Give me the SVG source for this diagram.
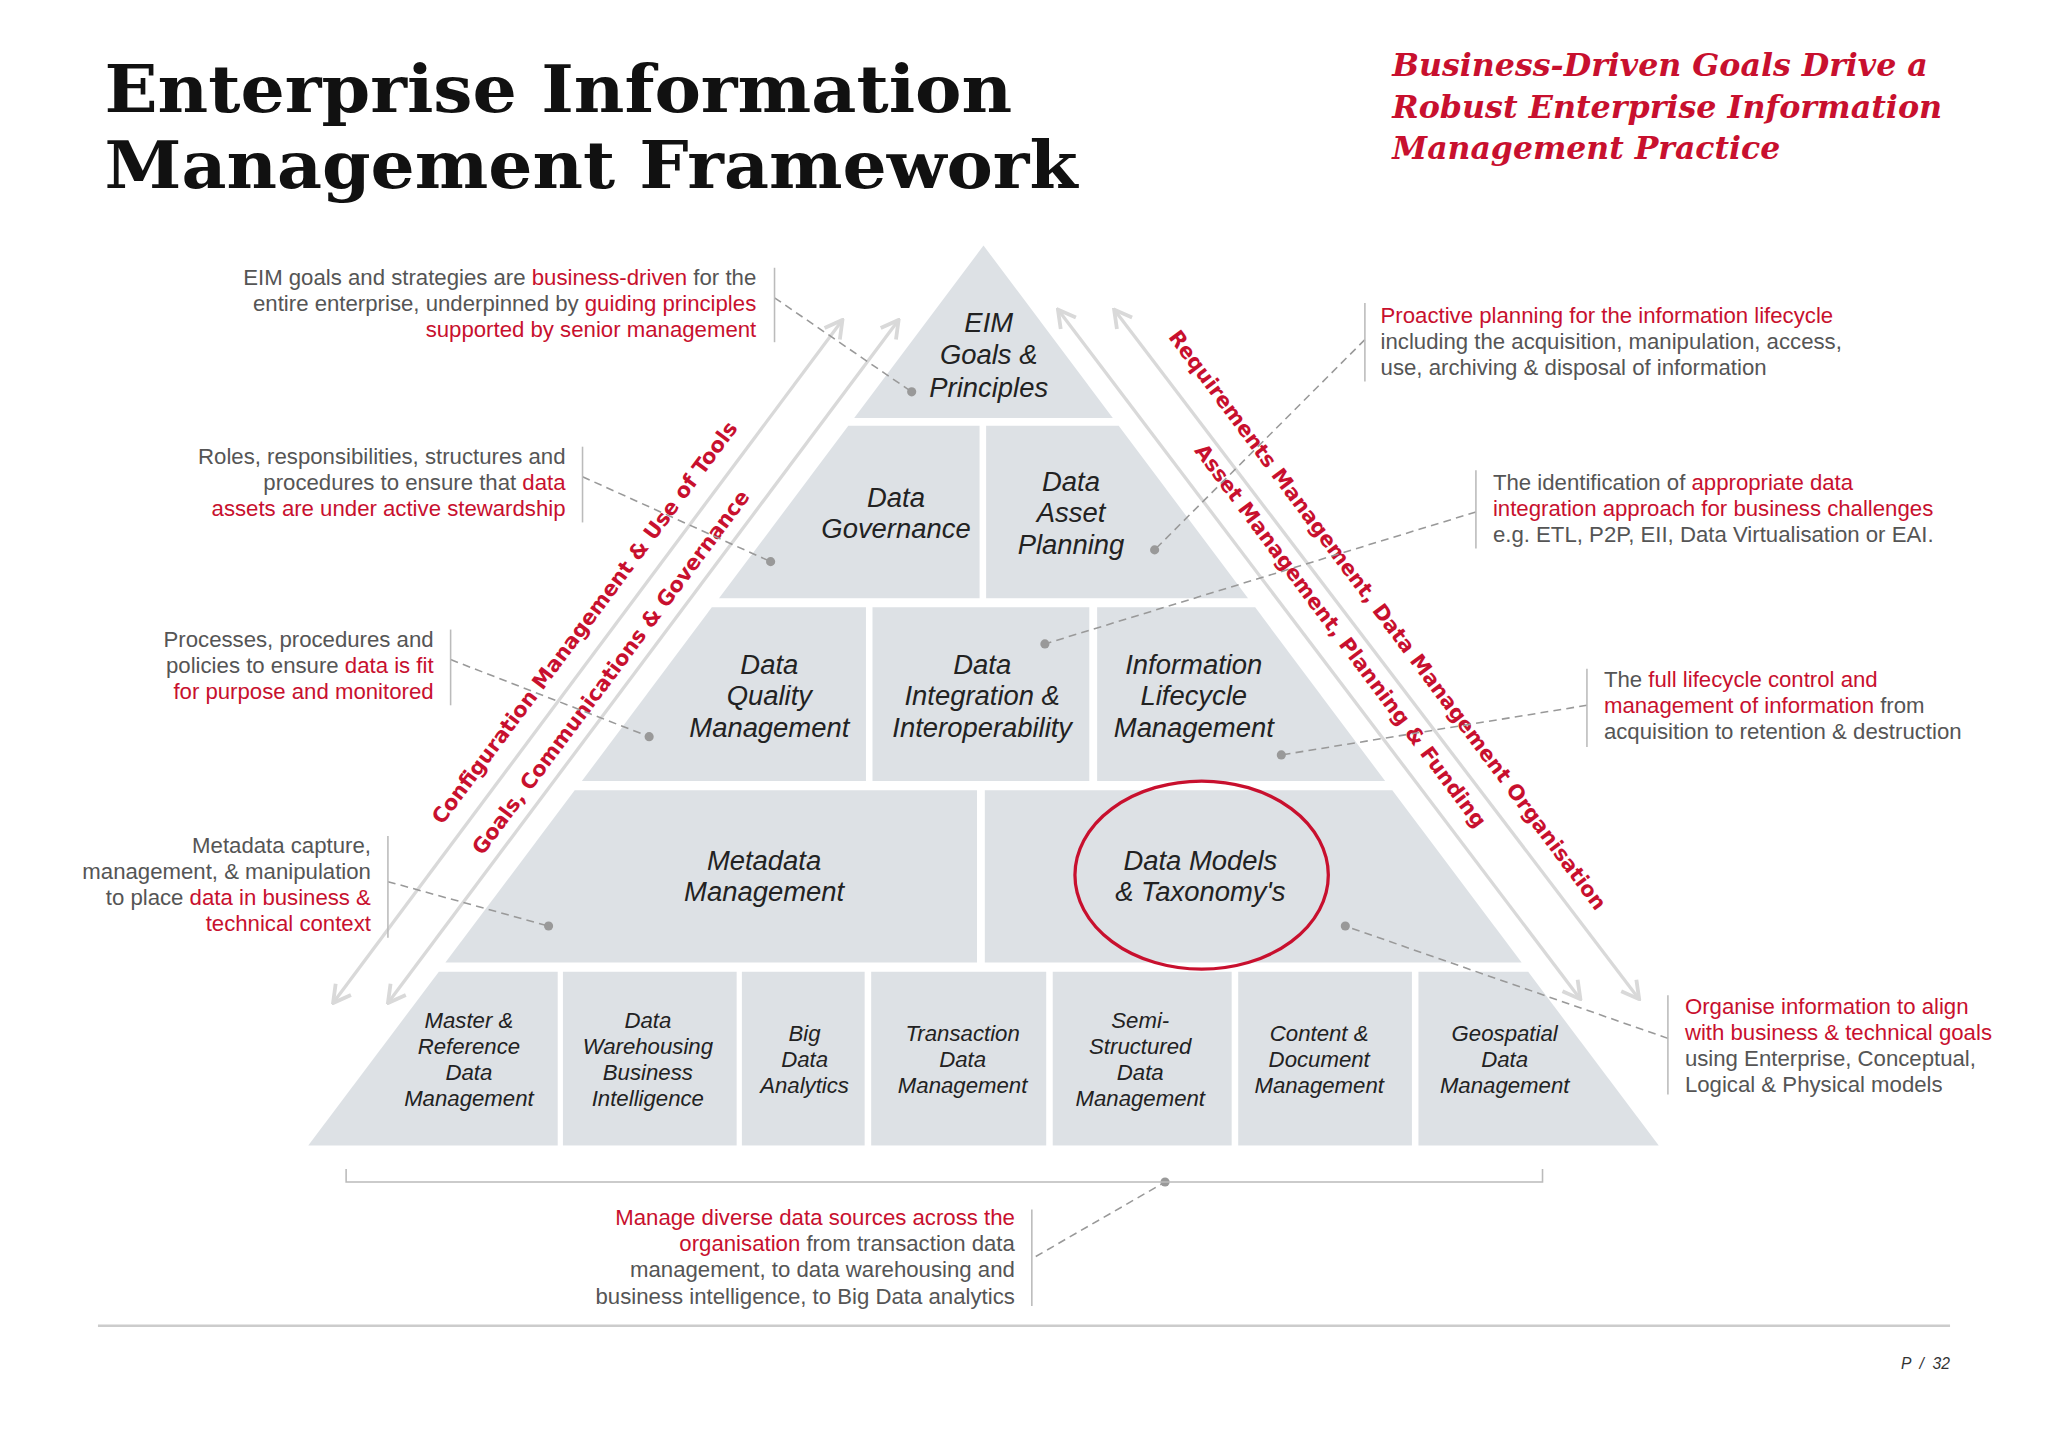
<svg xmlns="http://www.w3.org/2000/svg" width="2048" height="1448" viewBox="0 0 2048 1448">
<defs>
<style>
.t{fill:#dde1e5}
.n{font-family:"Liberation Sans",Arial,sans-serif;font-style:italic;font-size:21px;fill:#222;text-anchor:middle}
.s{font-size:17px}
.a{font-family:"Liberation Sans",Arial,sans-serif;font-size:17px;fill:#555}
.r{fill:#c8102e}
.e{text-anchor:end}
.bar{stroke:#bbb;stroke-width:1.2;fill:none}
.d{stroke:#999;stroke-width:1.2;stroke-dasharray:6 4;fill:none}
.dot{fill:#999}
.ar{stroke:#d9d9d9;stroke-width:2.5;fill:none;marker-start:url(#m);marker-end:url(#m)}
.rt{font-family:"DejaVu Sans",sans-serif;font-weight:bold;font-size:16px;fill:#c8102e;text-anchor:middle}
</style>
<marker id="m" viewBox="0 0 12 12" refX="11" refY="6" markerWidth="7" markerHeight="7" orient="auto-start-reverse" markerUnits="strokeWidth"><polyline points="2,1 11,6 2,11" fill="none" stroke="#d9d9d9" stroke-width="2"/></marker>
</defs>
<rect width="2048" height="1448" fill="#fff"/>
<g transform="scale(1.30612)">
<g id="title">
<text x="80" y="86" font-family="DejaVu Serif,serif" font-weight="bold" font-size="50" fill="#111" textLength="695" lengthAdjust="spacingAndGlyphs">Enterprise Information</text>
<text x="80" y="144" font-family="DejaVu Serif,serif" font-weight="bold" font-size="50" fill="#111" textLength="745" lengthAdjust="spacingAndGlyphs">Management Framework</text>
</g>
<g id="subtitle" font-family="DejaVu Serif,serif" font-weight="bold" font-style="italic" font-size="24" fill="#c8102e">
<text x="1066" y="58" textLength="410" lengthAdjust="spacingAndGlyphs">Business-Driven Goals Drive a</text>
<text x="1066" y="90" textLength="421" lengthAdjust="spacingAndGlyphs">Robust Enterprise Information</text>
<text x="1066" y="122" textLength="297" lengthAdjust="spacingAndGlyphs">Management Practice</text>
</g>
<g id="pyramid">
<polygon class="t" points="753,188 852,320 654,320"/>
<polygon class="t" points="649.5,326 750,326 750,458 550.5,458"/>
<polygon class="t" points="755,326 856.5,326 955.5,458 755,458"/>
<polygon class="t" points="545,465 663,465 663,598 445.5,598"/>
<polygon class="t" points="668,465 834,465 834,598 668,598"/>
<polygon class="t" points="840,465 961,465 1060.5,598 840,598"/>
<polygon class="t" points="440,605 748,605 748,737 341,737"/>
<polygon class="t" points="754,605 1066,605 1165,737 754,737"/>
<polygon class="t" points="336,744 427,744 427,877 236,877"/>
<rect class="t" x="431" y="744" width="133" height="133"/>
<rect class="t" x="568" y="744" width="94" height="133"/>
<rect class="t" x="667" y="744" width="134" height="133"/>
<rect class="t" x="806" y="744" width="137" height="133"/>
<rect class="t" x="948" y="744" width="133" height="133"/>
<polygon class="t" points="1086,744 1170,744 1270,877 1086,877"/>
</g>
<g id="nodes">
<g id="n-eim"><text class="n"><tspan x="757" y="254">EIM</tspan><tspan x="757" y="279">Goals &amp;</tspan><tspan x="757" y="304">Principles</tspan></text></g>
<g id="n-gov"><text class="n"><tspan x="686" y="388">Data</tspan><tspan x="686" y="412">Governance</tspan></text></g>
<g id="n-dap"><text class="n"><tspan x="820" y="376">Data</tspan><tspan x="820" y="400">Asset</tspan><tspan x="820" y="424">Planning</tspan></text></g>
<g id="n-dqm"><text class="n"><tspan x="589" y="516">Data</tspan><tspan x="589" y="540">Quality</tspan><tspan x="589" y="564">Management</tspan></text></g>
<g id="n-dii"><text class="n"><tspan x="752" y="516">Data</tspan><tspan x="752" y="540">Integration &amp;</tspan><tspan x="752" y="564">Interoperability</tspan></text></g>
<g id="n-ilm"><text class="n"><tspan x="914" y="516">Information</tspan><tspan x="914" y="540">Lifecycle</tspan><tspan x="914" y="564">Management</tspan></text></g>
<g id="n-meta"><text class="n"><tspan x="585" y="666">Metadata</tspan><tspan x="585" y="690">Management</tspan></text></g>
<g id="n-dm"><text class="n"><tspan x="919" y="666">Data Models</tspan><tspan x="919" y="690">&amp; Taxonomy's</tspan></text>
<ellipse cx="920" cy="670" rx="97" ry="72" fill="none" stroke="#c8102e" stroke-width="2.5"/></g>
<g id="n-mrd"><text class="n s"><tspan x="359" y="787">Master  &amp;</tspan><tspan x="359" y="807">Reference</tspan><tspan x="359" y="827">Data</tspan><tspan x="359" y="847">Management</tspan></text></g>
<g id="n-dw"><text class="n s"><tspan x="496" y="787">Data</tspan><tspan x="496" y="807">Warehousing</tspan><tspan x="496" y="827">Business</tspan><tspan x="496" y="847">Intelligence</tspan></text></g>
<g id="n-bd"><text class="n s"><tspan x="616" y="797">Big</tspan><tspan x="616" y="817">Data</tspan><tspan x="616" y="837">Analytics</tspan></text></g>
<g id="n-td"><text class="n s"><tspan x="737" y="797">Transaction</tspan><tspan x="737" y="817">Data</tspan><tspan x="737" y="837">Management</tspan></text></g>
<g id="n-ss"><text class="n s"><tspan x="873" y="787">Semi-</tspan><tspan x="873" y="807">Structured</tspan><tspan x="873" y="827">Data</tspan><tspan x="873" y="847">Management</tspan></text></g>
<g id="n-cd"><text class="n s"><tspan x="1010" y="797">Content &amp;</tspan><tspan x="1010" y="817">Document</tspan><tspan x="1010" y="837">Management</tspan></text></g>
<g id="n-geo"><text class="n s"><tspan x="1152" y="797">Geospatial</tspan><tspan x="1152" y="817">Data</tspan><tspan x="1152" y="837">Management</tspan></text></g>
</g>
<g id="side-arrows">
<line class="ar" x1="255" y1="768" x2="645" y2="245"/>
<line class="ar" x1="297" y1="768" x2="688" y2="245"/>
<line class="ar" x1="810" y1="237" x2="1210" y2="765"/>
<line class="ar" x1="853" y1="237" x2="1255" y2="765"/>
<text class="rt" transform="translate(452,480) rotate(-53.3)">Configuration Management &amp; Use of Tools</text>
<text class="rt" transform="translate(472,518) rotate(-53.3)">Goals, Communications &amp; Governance</text>
<text class="rt" transform="translate(1058,478) rotate(53.3)">Requirements Management, Data Management Organisation</text>
<text class="rt" transform="translate(1022,490) rotate(53.3)">Asset Management, Planning &amp; Funding</text>
</g>
<g id="connectors">
<line class="d" x1="593" y1="228" x2="698" y2="300"/><circle class="dot" cx="698" cy="300" r="3.5"/>
<line class="d" x1="446" y1="365" x2="590" y2="430"/><circle class="dot" cx="590" cy="430" r="3.5"/>
<line class="d" x1="345" y1="505" x2="497" y2="564"/><circle class="dot" cx="497" cy="564" r="3.5"/>
<line class="d" x1="297" y1="675" x2="420" y2="709"/><circle class="dot" cx="420" cy="709" r="3.5"/>
<line class="d" x1="793" y1="962" x2="892" y2="905"/><circle class="dot" cx="892" cy="905" r="3.5"/>
<line class="d" x1="1045" y1="260" x2="884" y2="421"/><circle class="dot" cx="884" cy="421" r="3.5"/>
<line class="d" x1="1130" y1="392" x2="800" y2="493"/><circle class="dot" cx="800" cy="493" r="3.5"/>
<line class="d" x1="1215" y1="540" x2="981" y2="578"/><circle class="dot" cx="981" cy="578" r="3.5"/>
<line class="d" x1="1277" y1="795" x2="1030" y2="709"/><circle class="dot" cx="1030" cy="709" r="3.5"/>
<polyline class="bar" points="265,895 265,905 1181,905 1181,895"/>
</g>
<g id="annotations">
<line class="bar" x1="593" y1="205" x2="593" y2="262"/>
<text class="a e"><tspan x="579" y="218">EIM goals and strategies are <tspan class="r">business-driven</tspan> for the</tspan><tspan x="579" y="238">entire enterprise, underpinned by <tspan class="r">guiding principles</tspan></tspan><tspan x="579" y="258" class="r">supported by senior management</tspan></text>
<line class="bar" x1="446" y1="342" x2="446" y2="400"/>
<text class="a e"><tspan x="433" y="355">Roles, responsibilities, structures and</tspan><tspan x="433" y="375">procedures to ensure that <tspan class="r">data</tspan></tspan><tspan x="433" y="395" class="r">assets are under active stewardship</tspan></text>
<line class="bar" x1="345" y1="482" x2="345" y2="540"/>
<text class="a e"><tspan x="332" y="495">Processes, procedures and</tspan><tspan x="332" y="515">policies to ensure <tspan class="r">data is fit</tspan></tspan><tspan x="332" y="535" class="r">for purpose and monitored</tspan></text>
<line class="bar" x1="297" y1="640" x2="297" y2="718"/>
<text class="a e"><tspan x="284" y="653">Metadata capture,</tspan><tspan x="284" y="673">management, &amp; manipulation</tspan><tspan x="284" y="693">to place <tspan class="r">data in business &amp;</tspan></tspan><tspan x="284" y="713" class="r">technical context</tspan></text>
<line class="bar" x1="790" y1="926" x2="790" y2="1000"/>
<text class="a e"><tspan x="777" y="938" class="r">Manage diverse data sources across the</tspan><tspan x="777" y="958"><tspan class="r">organisation</tspan> from transaction data</tspan><tspan x="777" y="978">management, to data warehousing and</tspan><tspan x="777" y="998">business intelligence, to Big Data analytics</tspan></text>
<line class="bar" x1="1045" y1="232" x2="1045" y2="292"/>
<text class="a"><tspan x="1057" y="247" class="r">Proactive planning for the information lifecycle</tspan><tspan x="1057" y="267">including the acquisition, manipulation, access,</tspan><tspan x="1057" y="287">use, archiving &amp; disposal of information</tspan></text>
<line class="bar" x1="1130" y1="360" x2="1130" y2="420"/>
<text class="a"><tspan x="1143" y="375">The identification of <tspan class="r">appropriate data</tspan></tspan><tspan x="1143" y="395" class="r">integration approach for business challenges</tspan><tspan x="1143" y="415">e.g. ETL, P2P, EII, Data Virtualisation or EAI.</tspan></text>
<line class="bar" x1="1215" y1="512" x2="1215" y2="572"/>
<text class="a"><tspan x="1228" y="526">The <tspan class="r">full lifecycle control and</tspan></tspan><tspan x="1228" y="546"><tspan class="r">management of information</tspan> from</tspan><tspan x="1228" y="566">acquisition to retention &amp; destruction</tspan></text>
<line class="bar" x1="1277" y1="762" x2="1277" y2="838"/>
<text class="a"><tspan x="1290" y="776" class="r">Organise information to align</tspan><tspan x="1290" y="796" class="r">with business &amp; technical goals</tspan><tspan x="1290" y="816">using Enterprise, Conceptual,</tspan><tspan x="1290" y="836">Logical &amp; Physical models</tspan></text>
</g>
<g id="footer">
<line x1="75" y1="1015" x2="1493" y2="1015" stroke="#ccc" stroke-width="2"/>
<text x="1493" y="1048" text-anchor="end" font-family="Liberation Sans,sans-serif" font-style="italic" font-size="12" fill="#333" xml:space="preserve">P  /  32</text>
</g>
</g>
</svg>
